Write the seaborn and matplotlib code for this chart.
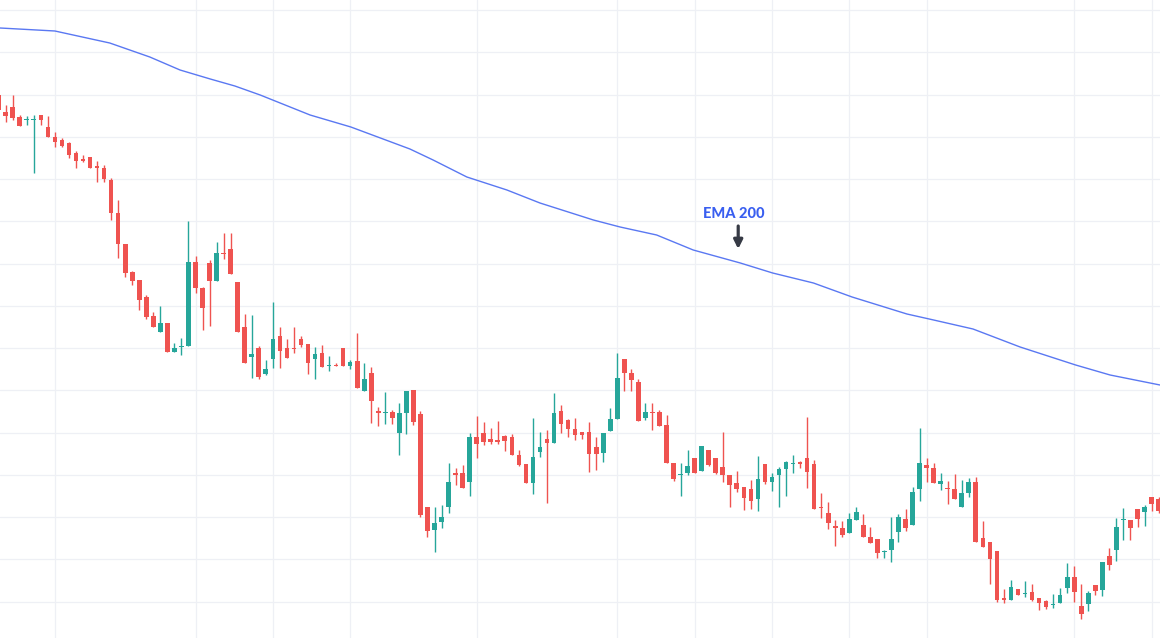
import numpy as np
import pandas as pd
import matplotlib
matplotlib.use("Agg")
import matplotlib.pyplot as plt
import seaborn as sns

# candle data (price units)
opens = [543, 526, 531, 521, 518, 518, 523, 511, 501, 498, 495, 485, 479, 481, 472, 470, 458, 425, 394, 366,
         358, 341, 322, 306, 315, 286, 291, 292, 376, 350, 375, 357, 385, 389, 356, 311, 281, 290, 264, 279,
         302, 290, 290, 299, 294, 279, 285, 272, 273, 290, 272, 277, 247, 265, 227, 225, 226, 205, 225, 248,
         224, 131, 108, 116, 131, 165, 165, 156, 201, 205, 199, 198, 202, 201, 183, 174, 155, 186, 199, 195,
         227, 218, 209, 206, 206, 191, 185, 207, 219, 279, 265, 256, 220, 226, 226, 213, 175, 163, 165, 180,
         167, 188, 180, 171, 163, 155, 151, 149, 139, 174, 156, 163, 169, 174, 176, 180, 174, 131, 125, 112,
         110, 105, 118, 113, 101, 99, 86, 88, 106, 119, 113, 149, 173, 170, 154, 150, 149, 131, 145, 156,
         100, 96, 87, 40, 38, 49, 44, 46, 40, 37, 33, 35, 50, 61, 32, 34, 53, 48, 82, 88,
         118, 118, 129, 126, 141, 139]
highs = [545, 533, 543, 523, 522, 523, 523, 522, 506, 500, 496, 487, 483, 481, 477, 473, 460, 438, 394, 367,
         358, 343, 326, 332, 315, 295, 300, 417, 382, 351, 378, 396, 405, 405, 356, 324, 323, 292, 278, 336,
         311, 299, 311, 302, 294, 291, 293, 282, 275, 290, 278, 305, 275, 271, 231, 246, 228, 235, 247, 248,
         227, 131, 131, 133, 175, 170, 173, 205, 222, 216, 210, 217, 203, 204, 188, 174, 220, 206, 208, 245,
         233, 219, 220, 206, 216, 201, 205, 230, 285, 279, 269, 259, 235, 235, 228, 223, 175, 175, 188, 180,
         192, 188, 180, 206, 163, 167, 151, 158, 182, 174, 165, 171, 177, 183, 177, 221, 178, 145, 136, 118,
         117, 125, 131, 124, 111, 99, 88, 121, 124, 129, 151, 210, 180, 175, 165, 157, 164, 158, 160, 161,
         117, 96, 87, 49, 58, 49, 57, 54, 40, 38, 44, 50, 75, 72, 54, 47, 53, 76, 90, 120,
         130, 118, 129, 133, 141, 141]
lows = [525, 516, 518, 512, 513, 465, 513, 501, 491, 491, 480, 470, 476, 470, 456, 456, 418, 380, 361, 353,
        328, 319, 311, 306, 286, 286, 283, 292, 345, 308, 312, 357, 379, 364, 306, 275, 260, 259, 263, 270,
        270, 280, 285, 291, 264, 259, 271, 267, 272, 272, 269, 250, 247, 215, 212, 214, 214, 183, 204, 213,
        121, 101, 86, 110, 125, 153, 150, 142, 180, 193, 194, 194, 187, 183, 172, 155, 144, 181, 135, 195,
        205, 201, 198, 199, 166, 168, 176, 207, 219, 247, 247, 217, 218, 208, 212, 175, 157, 142, 163, 165,
        167, 172, 164, 156, 131, 146, 128, 129, 127, 154, 147, 131, 142, 165, 170, 150, 129, 120, 109, 92,
        101, 105, 118, 101, 95, 80, 80, 76, 96, 107, 113, 137, 156, 155, 148, 134, 139, 131, 141, 96,
        91, 54, 36, 35, 38, 43, 41, 37, 28, 29, 30, 35, 45, 36, 19, 27, 43, 42, 68, 77,
        98, 98, 111, 112, 127, 125]
closes = [528, 522, 520, 512, 519, 519, 518, 501, 496, 492, 483, 477, 477, 470, 470, 459, 425, 394, 365, 357,
          338, 321, 311, 315, 286, 290, 292, 376, 350, 330, 357, 385, 384, 364, 306, 275, 284, 261, 269, 299,
          287, 280, 289, 293, 275, 284, 271, 273, 272, 272, 276, 250, 259, 237, 225, 226, 220, 225, 247, 216,
          123, 107, 115, 121, 156, 163, 150, 201, 194, 196, 196, 196, 197, 183, 173, 155, 181, 191, 195, 225,
          214, 209, 203, 203, 184, 184, 205, 219, 260, 265, 258, 217, 226, 225, 212, 175, 159, 164, 172, 165,
          192, 173, 165, 163, 153, 149, 140, 137, 159, 156, 161, 169, 176, 175, 174, 166, 129, 130, 115, 110,
          103, 119, 126, 101, 95, 85, 87, 99, 121, 110, 146, 175, 170, 155, 157, 149, 139, 145, 156, 96,
          91, 79, 38, 38, 51, 43, 45, 38, 35, 31, 34, 43, 61, 46, 24, 45, 47, 76, 73, 111,
          119, 110, 119, 131, 134, 127]

# EMA 200 sampled along the line (candle index, value)
ema_idx = [0.2, 8.0, 15.8, 21.5, 25.8, 30.1, 33.6, 37.2, 44.3, 50.1, 58.5, 61.8, 66.6, 72.3, 77.0,
           84.6, 88.4, 93.6, 98.8, 105.5, 110.1, 115.9, 121.4, 129.2, 133.0, 138.6, 145.3, 153.2, 158.1, 165.2]
ema_val = [610, 607, 595, 581, 568, 559, 552, 543, 523, 511, 489, 478, 461, 448, 435,
           418, 411, 403, 388, 375, 365, 355, 341, 324, 318, 309, 291, 273, 263, 253]

# time grid positions (candle index)
vgrid = [8, 28, 39, 50, 68, 88, 99, 110, 121, 132, 153, 164]

df = pd.DataFrame({"open": opens, "high": highs, "low": lows, "close": closes})
df["idx"] = np.arange(len(df))
up = df["close"] >= df["open"]

UP_COL = "#26a69a"
DN_COL = "#ef5350"

sns.set_style("white")

fig = plt.figure(figsize=(11.6, 6.38), dpi=100)
ax = fig.add_axes([0, 0, 1, 1])

# grid
ax.set_yticks(np.arange(36.5, 640, 42.25))
ax.set_xticks(vgrid)
ax.grid(True, color="#eef0f5", linewidth=0.9)
ax.tick_params(left=False, bottom=False, labelleft=False, labelbottom=False)
for s in ax.spines.values():
    s.set_visible(False)

colors = np.where(up, UP_COL, DN_COL)

# wicks
ax.vlines(df["idx"], df["low"], df["high"], colors=colors, linewidth=1.0, zorder=2)

# bodies
body_low = np.minimum(df["open"], df["close"])
body_h = np.maximum(np.abs(df["close"] - df["open"]), 1.0)
ax.bar(df["idx"], body_h, bottom=body_low, width=0.66, color=colors, linewidth=0, zorder=3)

# EMA line
ema = pd.DataFrame({"idx": ema_idx, "ema": ema_val})
sns.lineplot(data=ema, x="idx", y="ema", ax=ax, color="#5a78f2", linewidth=1.0, zorder=4)

# label + arrow
ax.text(104.6, 424, "EMA 200", color="#3a5ff0", fontsize=10.5, fontweight="black",
        family=["Lato", "DejaVu Sans"], ha="center", va="center", zorder=5)
ax.annotate("", xy=(105.2, 389), xytext=(105.2, 412),
            arrowprops=dict(arrowstyle="-|>", color="#363a45", lw=2.3, mutation_scale=13,
                            shrinkA=0, shrinkB=0), zorder=5)

ax.set_xlim(0.19, 165.2)
ax.set_ylim(0, 638)
ax.set_xlabel("")
ax.set_ylabel("")

fig.savefig("out.png", dpi=100, facecolor="white")
